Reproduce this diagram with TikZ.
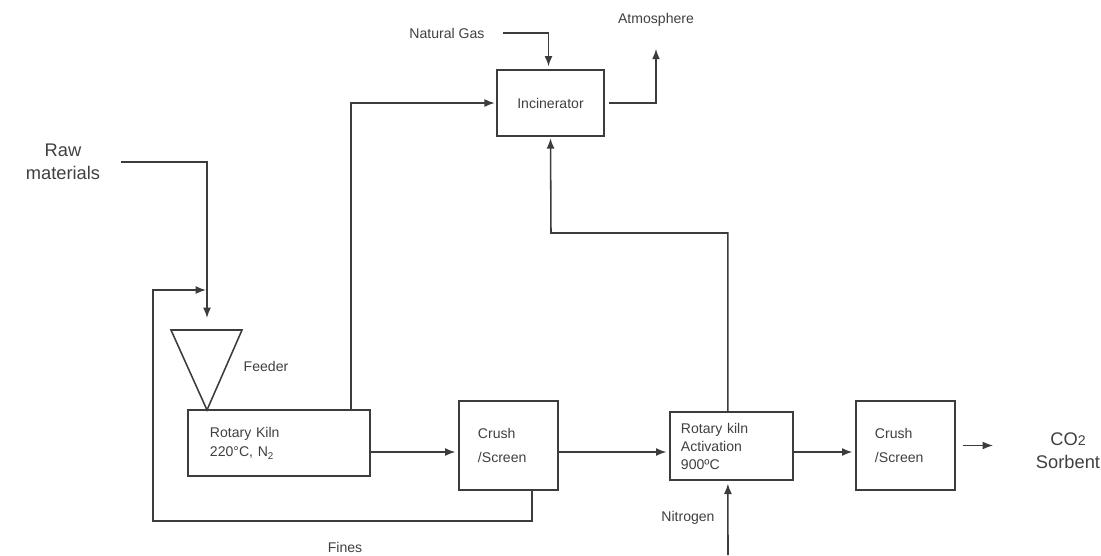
\documentclass[tikz,border=0pt]{standalone}
\usepackage{fontspec}
\setmainfont{Liberation Sans}
\usepackage{tikz}
\usetikzlibrary{arrows.meta}
\usetikzlibrary{calc}
\definecolor{linegray}{HTML}{3C3C3C}
\definecolor{textgray}{HTML}{404040}
\tikzset{
  unit/.style={draw=linegray,line width=1.1pt,text=textgray,align=left,
    font=\fontsize{10}{17}\selectfont},
  lbl/.style={text=textgray,font=\fontsize{10}{12}\selectfont,inner sep=0pt},
  big/.style={text=textgray,align=center,font=\fontsize{13}{16.5}\selectfont},
  flow/.style={draw=linegray,line width=1.1pt,-{Latex[length=2.6mm,width=2mm]}},
  pipe/.style={draw=linegray,line width=1.1pt}
}
\begin{document}
\begin{tikzpicture}[x=0.025cm,y=-0.025cm]
\useasboundingbox (0,0) rectangle (1101,555);
% units
\node[unit,minimum width=4.55cm,minimum height=1.65cm,text width=3.45cm,
  font=\fontsize{10}{14}\selectfont] (kiln) at (279,443) {Rotary Kiln\\220°C, N\textsubscript{2}};
\node[unit,minimum width=2.475cm,minimum height=2.225cm,text width=1.525cm] (crusha) at (508.5,445.5) {Crush\\/Screen};
\node[unit,minimum width=3.075cm,minimum height=1.7cm,text width=2.525cm,
  font=\fontsize{10}{12.8}\selectfont] (activ) at (731.5,446) {Rotary kiln\\Activation\\900ºC};
\node[unit,minimum width=2.475cm,minimum height=2.225cm,text width=1.525cm] (crushb) at (905.5,445.5) {Crush\\/Screen};
\node[unit,minimum width=2.675cm,minimum height=1.65cm,align=center] (incin) at (550.5,103) {Incinerator};
% feeder
\draw[pipe] (171,330) -- (242,330) -- (207,410) -- cycle;
\node[lbl] (feedlbl) at (266,366) {Feeder};
% labels
\node[big] (raw) at (63,162) {Raw\\materials};
\node[big] (co2) at (1068,451) {CO{\fontsize{10}{10}\selectfont 2}\\Sorbent};
\node[lbl] (gas) at (447,33) {Natural Gas};
\node[lbl] (atm) at (656,20) {Atmosphere};
\node[lbl] (n2) at (688,518) {Nitrogen};
\node[lbl] (fines) at (345,547) {Fines};
\coordinate (feedin) at (207,318);
\coordinate (feedmid) at (206,290);
\coordinate (finesL) at (153,521);
\coordinate (split) at (551,233);
\coordinate (n2in) at (728,555);
\coordinate (main) at (0,452);
% streams
\draw[flow] ([xshift=0.4cm]raw.east) -| (feedin);
\draw[flow] ([xshift=0.59cm]crusha.south) |- (finesL) |- (feedmid);
\draw[flow] (kiln.east |- main) -- ([xshift=-2pt]crusha.west |- main);
\draw[flow] (crusha.east |- main) -- ([xshift=-2pt]activ.west |- main);
\draw[flow] (activ.east |- main) -- ([xshift=-2pt]crushb.west |- main);
\draw[flow] ([xshift=0.18cm]crushb.east) -- ([xshift=-0.95cm]co2.west |- crushb.east);
\draw[flow] ([xshift=1.8cm]kiln.north) |- ([xshift=-1pt]incin.west);
\draw[flow] ([xshift=0.45cm]gas.east) -| ([xshift=-0.05cm,yshift=2pt]incin.north);
\draw[flow] ([xshift=0.1cm]incin.east) -| ([yshift=-0.55cm]atm.south);
\draw[flow] ([xshift=-0.09cm]activ.north) |- (split) -- ([yshift=-1pt]incin.south);
\draw[flow] (n2in) -- ([xshift=-0.09cm,yshift=-2pt]activ.south);
\end{tikzpicture}
\end{document}
